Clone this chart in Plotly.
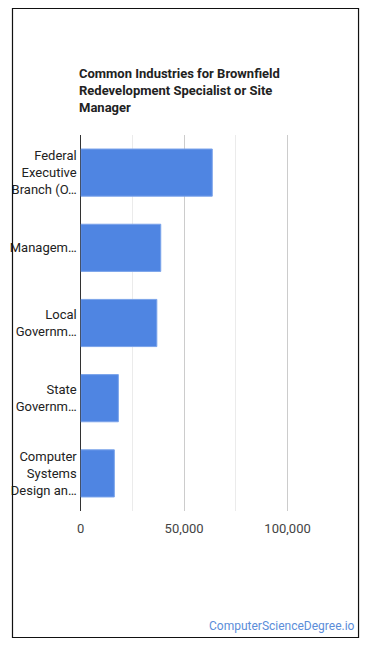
import plotly.graph_objects as go

# page body has an 8px margin; figure is sized/offset to fit the 370x648 window
OFF = 8
W, H = 354, 632

categories = [
    "Federal<br>Executive<br>Branch (O…",
    "Managem…",
    "Local<br>Governm…",
    "State<br>Governm…",
    "Computer<br>Systems<br>Design an…",
]
values = [63600, 38700, 36800, 18200, 16250]
tick_vals = [0, 50000, 100000]
tick_text = ["0", "50,000", "100,000"]
title_text = "Common Industries for Brownfield<br>Redevelopment Specialist or Site<br>Manager"
watermark = "ComputerScienceDegree.io"

def px(x):
    return (x - OFF) / W

def py(y):
    return 1 - (y - OFF) / H

fig = go.Figure(
    go.Bar(
        x=values,
        y=categories,
        orientation="h",
        marker=dict(color="#4f85e2", line=dict(color="#7aa3ea", width=1)),
        hoverinfo="x+y",
    )
)

fig.update_layout(
    width=W,
    height=H,
    margin=dict(l=0, r=0, t=0, b=0),
    paper_bgcolor="white",
    plot_bgcolor="white",
    font=dict(family="Roboto, Arial, sans-serif", size=13, color="#222"),
    showlegend=False,
    bargap=0.373,
    xaxis=dict(
        domain=[px(77.5), px(339.0)],
        range=[0, 125000],
        tickvals=tick_vals,
        ticktext=tick_text,
        showgrid=True,
        gridcolor="#cccccc",
        gridwidth=1,
        minor=dict(dtick=25000, tick0=0, showgrid=True, gridcolor="#ebebeb", gridwidth=1),
        zeroline=True,
        zerolinecolor="#333333",
        zerolinewidth=1,
        showline=False,
        ticks="",
        ticklabelstandoff=8,
        tickfont=dict(size=13, color="#444"),
        fixedrange=True,
    ),
    yaxis=dict(
        domain=[py(511), py(135)],
        autorange="reversed",
        showgrid=False,
        showline=False,
        ticks="",
        ticklabelstandoff=3,
        tickfont=dict(size=13, color="#222"),
        fixedrange=True,
    ),
    shapes=[
        dict(
            type="rect", xref="paper", yref="paper",
            x0=px(8.5), x1=px(358.5), y0=py(637.5), y1=py(8.5),
            line=dict(color="#111", width=1.2), fillcolor="rgba(0,0,0,0)",
            layer="above",
        )
    ],
    annotations=[
        dict(
            text="<b>" + title_text + "</b>",
            xref="paper", yref="paper",
            x=px(74), y=py(64), xanchor="left", yanchor="top",
            align="left", showarrow=False,
            font=dict(size=13, color="#222", family="Roboto, Arial, sans-serif"),
        ),
        dict(
            text=watermark,
            xref="paper", yref="paper",
            x=px(357), y=py(626), xanchor="right", yanchor="middle",
            showarrow=False,
            font=dict(size=12, color="#5b8dd9", family="Roboto, Arial, sans-serif"),
        ),
    ],
)

fig.write_html("out.html")
